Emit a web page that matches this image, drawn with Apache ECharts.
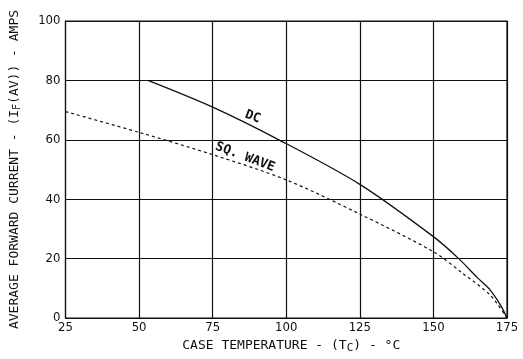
<!DOCTYPE html>
<html>
<head>
<meta charset="utf-8">
<script src="https://cdn.jsdelivr.net/npm/echarts@6/dist/echarts.min.js"></script>
<style>
html,body{margin:0;padding:0;background:#fff;}
#main{width:523px;height:359px;}
</style>
</head>
<body>
<div id="main"></div>
<script>
// values
var xTicks = [25, 50, 75, 100, 125, 150, 175];
var yTicks = [0, 20, 40, 60, 80, 100];
var dcData = [[53, 80], [75, 71], [97.5, 60], [125, 45], [150, 27.4], [158.6, 20], [165, 13.5], [169.3, 9.4], [173, 4], [175, 0]];
var sqData = [[25, 69.5], [50, 62.5], [75, 55], [100, 46.5], [125, 35], [150, 22.3], [160, 15], [169.3, 7.7], [175, 0]];
// annotation anchors (data coords) and text
var labelNames = ['DC', 'SQ. WAVE'];
var labelPos = [[88.6, 67.7], [86, 54.2]];

var mono = "'DejaVu Sans Mono', monospace";
var narrow = "'Liberation Sans Narrow', 'DejaVu Sans Condensed', sans-serif";

var chart = echarts.init(document.getElementById('main'));
var option = {
    backgroundColor: '#fff',
    animation: false,
    grid: {
        left: 60, right: 16, top: 21, bottom: 41,
        show: true, borderColor: '#111', borderWidth: 1.2
    },
    xAxis: {
        type: 'value',
        min: xTicks[0], max: xTicks[xTicks.length - 1], interval: 25,
        name: 'CASE TEMPERATURE - (T{s|C}) - °C',
        nameLocation: 'middle',
        nameGap: 18,
        nameTextStyle: {
            color: '#111', fontFamily: mono, fontSize: 13, padding: [0, 0, 0, 10],
            rich: { s: { fontFamily: mono, fontSize: 11, padding: [6, 0, 0, 0], color: '#111' } }
        },
        axisLine: { show: true, lineStyle: { color: '#111' } },
        axisTick: { show: false },
        axisLabel: { color: '#111', fontFamily: narrow, fontSize: 13, margin: 3 },
        splitLine: { show: true, lineStyle: { color: '#111', width: 1.2 } }
    },
    yAxis: {
        type: 'value',
        min: yTicks[0], max: yTicks[yTicks.length - 1], interval: 20,
        name: 'AVERAGE FORWARD CURRENT - (I{s|F}(AV)) - AMPS',
        nameLocation: 'middle',
        nameGap: 43,
        nameTextStyle: {
            color: '#111', fontFamily: mono, fontSize: 13,
            rich: { s: { fontFamily: mono, fontSize: 10, padding: [6, 0, 0, 0], color: '#111' } }
        },
        axisLine: { show: true, lineStyle: { color: '#111' } },
        axisTick: { show: false },
        axisLabel: { color: '#111', fontFamily: narrow, fontSize: 13, margin: 5 },
        splitLine: { show: true, lineStyle: { color: '#111', width: 1.2 } }
    },
    series: [
        {
            name: 'DC', type: 'line', data: dcData, smooth: 0.3,
            symbol: 'none',
            lineStyle: { color: '#111', width: 1.3 }
        },
        {
            name: 'SQ. WAVE', type: 'line', data: sqData, smooth: 0.3,
            symbol: 'none',
            lineStyle: { color: '#111', width: 1.2, type: [3, 3] }
        }
    ]
};
chart.setOption(option);

// place rotated curve labels from data coordinates
var gr = [];
for (var i = 0; i < labelNames.length; i++) {
    var p = chart.convertToPixel({ gridIndex: 0 }, labelPos[i]);
    gr.push({
        type: 'text', x: p[0], y: p[1], rotation: -0.36,
        style: {
            text: labelNames[i], fill: '#111', font: 'bold 13px ' + mono,
            align: 'center', verticalAlign: 'middle'
        }
    });
}
chart.setOption({ graphic: gr });
</script>
</body>
</html>
